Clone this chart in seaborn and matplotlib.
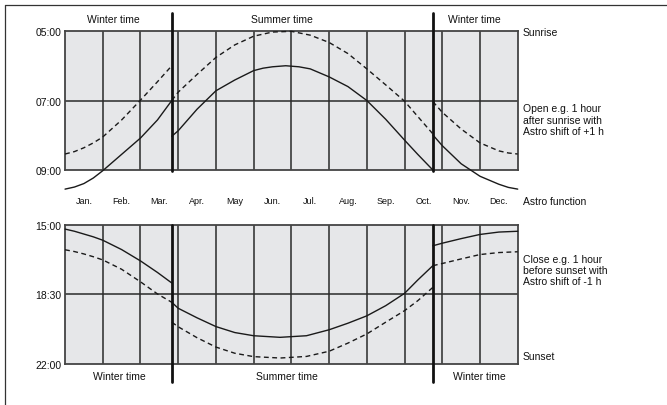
import numpy as np
import pandas as pd
import seaborn as sns
import matplotlib.pyplot as plt
from matplotlib.lines import Line2D

# month axis: 0 = 1 Jan, 12 = 31 Dec ; values in hours of day
months = ['Jan.', 'Feb.', 'Mar.', 'Apr.', 'May', 'Jun.', 'Jul.', 'Aug.', 'Sep.', 'Oct.', 'Nov.', 'Dec.']
dst_switch = [2.83, 9.75]

# sunrise (dashed) - winter / summer / winter
rise_w1_m = [0, 0.25, 0.5, 0.75, 1.0, 1.5, 2.0, 2.45, 2.83]
rise_w1_h = [8.54, 8.47, 8.36, 8.22, 8.05, 7.56, 6.99, 6.46, 6.0]
rise_s_m = [2.83, 3.0, 3.5, 4.0, 4.5, 5.0, 5.5, 6.0, 6.5, 7.0, 7.5, 8.0, 8.5, 9.0, 9.35, 9.75]
rise_s_h = [7.0, 6.76, 6.25, 5.76, 5.4, 5.15, 5.03, 5.01, 5.12, 5.33, 5.65, 6.09, 6.55, 7.02, 7.46, 7.96]
rise_w2_m = [9.75, 10.0, 10.5, 11.0, 11.5, 11.75, 12.0]
rise_w2_h = [7.03, 7.34, 7.82, 8.22, 8.45, 8.51, 8.54]

# open, astro function (solid)
open_w1_m = [0, 0.25, 0.5, 0.75, 1.0, 1.5, 2.0, 2.45, 2.83]
open_w1_h = [9.55, 9.49, 9.39, 9.23, 9.02, 8.55, 8.08, 7.56, 7.0]
open_s_m = [2.83, 3.0, 3.5, 4.0, 4.5, 5.0, 5.25, 5.5, 5.85, 6.2, 6.5, 7.0, 7.5, 8.0, 8.5, 9.0, 9.35, 9.75]
open_s_h = [8.03, 7.87, 7.25, 6.72, 6.41, 6.14, 6.07, 6.03, 6.0, 6.03, 6.09, 6.32, 6.6, 7.0, 7.54, 8.14, 8.55, 9.0]
open_w2_m = [9.75, 10.0, 10.5, 11.0, 11.5, 11.75, 12.0]
open_w2_h = [7.99, 8.3, 8.82, 9.18, 9.41, 9.5, 9.55]

# close, astro function (solid)
close_w1_m = [0, 0.25, 0.5, 0.75, 1.0, 1.5, 2.0, 2.45, 2.83]
close_w1_h = [15.22, 15.33, 15.47, 15.61, 15.78, 16.25, 16.82, 17.4, 17.93]
close_s_m = [2.83, 3.0, 3.5, 4.0, 4.5, 5.0, 5.7, 6.4, 7.0, 7.5, 8.0, 8.5, 9.0, 9.35, 9.75]
close_s_h = [18.9, 19.2, 19.68, 20.12, 20.42, 20.58, 20.66, 20.58, 20.28, 19.95, 19.58, 19.07, 18.45, 17.78, 17.06]
close_w2_m = [9.75, 10.0, 10.5, 11.0, 11.5, 12.0]
close_w2_h = [16.06, 15.93, 15.7, 15.49, 15.37, 15.33]

# sunset (dashed)
set_w1_m = [0, 0.25, 0.5, 0.75, 1.0, 1.5, 2.0, 2.45, 2.83]
set_w1_h = [16.26, 16.35, 16.47, 16.61, 16.77, 17.24, 17.87, 18.48, 18.9]
set_s_m = [2.83, 3.0, 3.5, 4.0, 4.5, 5.0, 5.7, 6.4, 7.0, 7.5, 8.0, 8.5, 9.0, 9.35, 9.75]
set_s_h = [19.9, 20.13, 20.68, 21.15, 21.46, 21.63, 21.7, 21.62, 21.36, 20.95, 20.49, 19.9, 19.32, 18.82, 18.15]
set_w2_m = [9.75, 10.0, 10.5, 11.0, 11.5, 12.0]
set_w2_h = [17.06, 16.95, 16.72, 16.5, 16.4, 16.36]

top_ticks = [5, 7, 9]
top_ticklabels = ['05:00', '07:00', '09:00']
bot_ticks = [15, 18.5, 22]
bot_ticklabels = ['15:00', '18:30', '22:00']

sns.set_theme(style='white')
plt.rcParams['font.family'] = ['Liberation Sans', 'DejaVu Sans']

fig = plt.figure(figsize=(6.67, 4.06), dpi=100)
ax1 = fig.add_axes([0.0975, 0.5788, 0.6787, 0.3424])
ax2 = fig.add_axes([0.0975, 0.101, 0.6787, 0.3431])

ink = '#1a1a1a'
dash = (0, (3.5, 2.5))

segs_top = [(rise_w1_m, rise_w1_h, dash), (rise_s_m, rise_s_h, dash), (rise_w2_m, rise_w2_h, dash),
            (open_w1_m, open_w1_h, '-'), (open_s_m, open_s_h, '-'), (open_w2_m, open_w2_h, '-')]
segs_bot = [(set_w1_m, set_w1_h, dash), (set_s_m, set_s_h, dash), (set_w2_m, set_w2_h, dash),
            (close_w1_m, close_w1_h, '-'), (close_s_m, close_s_h, '-'), (close_w2_m, close_w2_h, '-')]

for ax, segs, ticks, tlabels, lims in [(ax1, segs_top, top_ticks, top_ticklabels, (9, 5)),
                                       (ax2, segs_bot, bot_ticks, bot_ticklabels, (22, 15))]:
    ax.set_facecolor('#e6e7e9')
    # month grid
    ax.vlines(range(1, 12), lims[1], lims[0], color='#2a2a2a', lw=1.1, zorder=1)
    ax.axhline(ticks[1], color='#2a2a2a', lw=1.1, zorder=1)
    for m, h, ls in segs:
        df = pd.DataFrame({'month': m, 'hour': h})
        sns.lineplot(data=df, x='month', y='hour', ax=ax, color=ink, lw=1.0,
                     linestyle=ls, sort=False, estimator=None, clip_on=False, zorder=3)
    ax.set_xlim(0, 12)
    ax.set_ylim(*lims)
    ax.set_yticks(ticks, tlabels)
    ax.set_xlabel('')
    ax.set_ylabel('')
    ax.tick_params(axis='y', length=0, pad=2.5, labelsize=7.5, colors='#111')
    for sp in ax.spines.values():
        sp.set_color('#444')
        sp.set_linewidth(1.3)

ax1.set_xticks(np.arange(12) + 0.5, months)
ax1.tick_params(axis='x', length=0, pad=19, labelsize=6.5, colors='#111')
ax2.set_xticks([])

# daylight saving switches
for x in dst_switch:
    ax1.plot([x, x], [-0.01, 1.13], transform=ax1.get_xaxis_transform(), color='#111',
             lw=2, clip_on=False, zorder=4)
    ax2.plot([x, x], [-0.127, 1.0], transform=ax2.get_xaxis_transform(), color='#111',
             lw=2, clip_on=False, zorder=4)

tk = dict(fontsize=7.5, color='#111', ha='center', va='center')
for x, lab in [(1.28, 'Winter time'), (5.74, 'Summer time'), (10.86, 'Winter time')]:
    ax1.text(x, 1.088, lab, transform=ax1.get_xaxis_transform(), **tk)
for x, lab in [(1.44, 'Winter time'), (5.88, 'Summer time'), (10.99, 'Winter time')]:
    ax2.text(x, -0.087, lab, transform=ax2.get_xaxis_transform(), **tk)

rk = dict(fontsize=7.5, color='#111', ha='left', va='center', linespacing=1.15)
ax1.text(1.011, 0.993, 'Sunrise', transform=ax1.transAxes, **rk)
ax1.text(1.011, 0.363, 'Open e.g. 1 hour\nafter sunrise with\nAstro shift of +1 h', transform=ax1.transAxes, **rk)
ax1.text(1.011, -0.221, 'Astro function', transform=ax1.transAxes, **rk)
ax2.text(1.011, 0.675, 'Close e.g. 1 hour\nbefore sunset with\nAstro shift of -1 h', transform=ax2.transAxes, **rk)
ax2.text(1.011, 0.06, 'Sunset', transform=ax2.transAxes, **rk)

# outer frame (top and left edges)
fy = 1 - 5.5 / 406
fx = 4.7 / 667
fig.add_artist(Line2D([fx, 1], [fy, fy], transform=fig.transFigure, color='#333', lw=0.9))
fig.add_artist(Line2D([fx, fx], [0, fy], transform=fig.transFigure, color='#333', lw=0.9))

fig.savefig('out.png', dpi=100)
